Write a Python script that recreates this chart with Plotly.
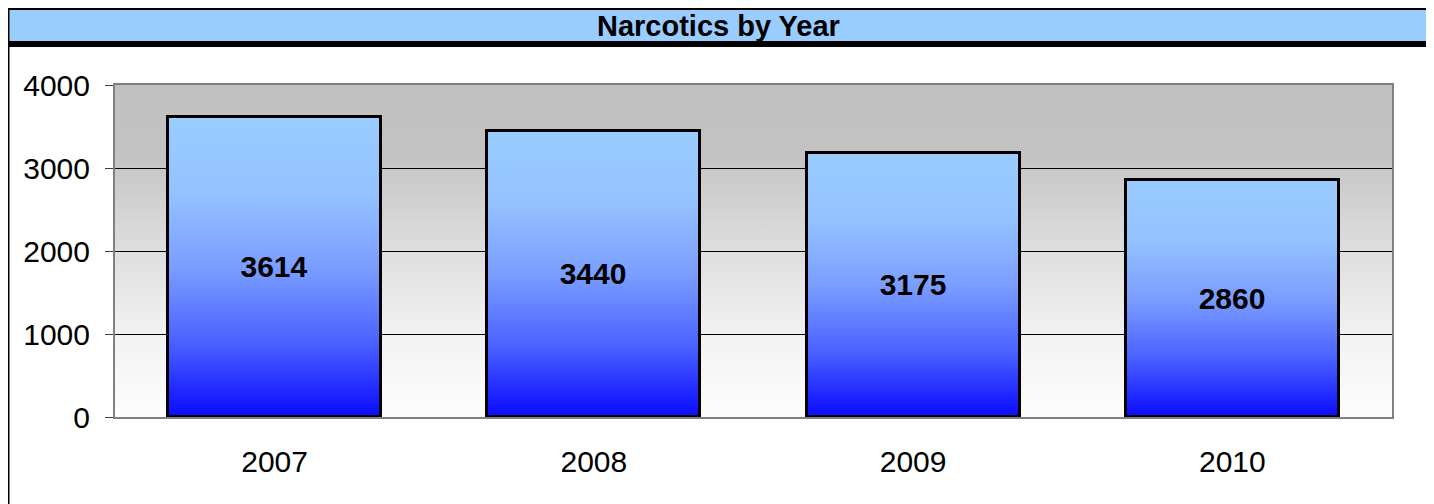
import base64
import plotly.graph_objects as go

# ---- data ----
years = ["2007", "2008", "2009", "2010"]
counts = [3614, 3440, 3175, 2860]
y_ticks = [0, 1000, 2000, 3000, 4000]
title_text = "Narcotics by Year"

# ---- style ----
FONT = "Liberation Sans, Arial, sans-serif"
BAR_WIDTH = 0.667
OFF = 8                      # page body margin
W, H = 1434 - OFF, 504 - OFF  # figure size
PL, PR, PT, PB = 115, 1392, 85, 417  # plot area in page pixels


def px(x):
    return (x - PL) / (PR - PL)


def py(y):
    return (PB - y) / (PB - PT)


bar_scale = [[0, "#0a0aff"], [0.25, "#4a62ff"], [0.5, "#7a9eff"],
             [0.75, "#95c2ff"], [1, "#99ccff"]]

fig = go.Figure()

# gradient-filled bar bodies
idx = list(range(len(years)))
for i, v in zip(idx, counts):
    hw = BAR_WIDTH / 2
    fig.add_trace(go.Scatter(
        x=[i - hw, i + hw, i + hw, i - hw, i - hw],
        y=[0, 0, v, v, 0],
        fill="toself", mode="lines", line=dict(width=0),
        fillgradient=dict(type="vertical", colorscale=bar_scale),
        hoverinfo="skip", showlegend=False,
    ))

# bar outlines + labels (overlay axes so they sit above the gradients)
fig.add_trace(go.Bar(
    x=idx, y=counts, width=BAR_WIDTH,
    marker=dict(color="rgba(0,0,0,0)", line=dict(color="black", width=3)),
    text=[str(v) for v in counts], textposition="inside",
    insidetextanchor="middle",
    textfont=dict(family=FONT, size=30, color="black", weight="bold"),
    xaxis="x2", yaxis="y2", showlegend=False, hoverinfo="skip",
))

# plot-area background gradient (SVG image)
svg = (
    '<svg xmlns="http://www.w3.org/2000/svg" width="100" height="100" '
    'viewBox="0 0 100 100" preserveAspectRatio="none">'
    '<defs><linearGradient id="g" x1="0" y1="0" x2="0" y2="1">'
    '<stop offset="0" stop-color="#c0c0c0"/>'
    '<stop offset="0.22" stop-color="#c3c3c3"/>'
    '<stop offset="0.26" stop-color="#c9c9c9"/>'
    '<stop offset="0.5" stop-color="#dedede"/>'
    '<stop offset="0.75" stop-color="#f2f2f2"/>'
    '<stop offset="1" stop-color="#fdfdfd"/>'
    '</linearGradient></defs>'
    '<rect x="0" y="0" width="100" height="100" fill="url(#g)"/></svg>'
)
src = "data:image/svg+xml;base64," + base64.b64encode(svg.encode()).decode()

shapes = [
    # title box fill
    dict(type="rect", xref="paper", yref="paper",
         x0=px(OFF), x1=px(1426), y0=py(OFF), y1=py(41),
         fillcolor="#99ccff", line=dict(width=0), layer="above"),
    # title box top edge (mostly cut by the page edge)
    dict(type="line", xref="paper", yref="paper",
         x0=px(OFF), x1=px(1434), y0=py(OFF), y1=py(OFF),
         line=dict(color="black", width=4)),
    # title box bottom edge
    dict(type="line", xref="paper", yref="paper",
         x0=px(OFF), x1=px(1434), y0=py(44), y1=py(44),
         line=dict(color="black", width=6)),
    # outer chart border sides
    dict(type="line", xref="paper", yref="paper",
         x0=px(OFF), x1=px(OFF), y0=py(OFF), y1=py(510),
         line=dict(color="black", width=3)),
    dict(type="line", xref="paper", yref="paper",
         x0=px(1430), x1=px(1430), y0=py(OFF), y1=py(510),
         line=dict(color="black", width=8)),
]

fig.update_layout(
    width=W, height=H,
    margin=dict(l=PL - OFF, r=(OFF + W) - PR, t=PT - OFF, b=(OFF + H) - PB,
                pad=0),
    paper_bgcolor="white", plot_bgcolor="rgba(0,0,0,0)",
    font=dict(family=FONT, size=30, color="black"),
    showlegend=False,
    images=[dict(source=src, xref="paper", yref="paper", x=0, y=1,
                 sizex=1, sizey=1, sizing="stretch", xanchor="left",
                 yanchor="top", layer="below")],
    shapes=shapes,
    annotations=[dict(text=title_text, xref="paper", yref="paper",
                      x=px(718), y=py(OFF + 0.5), xanchor="center",
                      yanchor="top", borderpad=0, showarrow=False,
                      font=dict(family=FONT, size=29, color="black",
                                weight="bold"))],
    xaxis=dict(range=[-0.5, 3.5], tickvals=idx, ticktext=years,
               showgrid=False, zeroline=False, ticks="",
               showline=True, linecolor="#808080", linewidth=2, mirror=True,
               ticklabelstandoff=17, tickfont=dict(size=30)),
    yaxis=dict(range=[0, 4000], tickvals=y_ticks, showgrid=True,
               gridcolor="black", gridwidth=1, zeroline=False,
               ticks="outside", ticklen=8, tickcolor="#404040", tickwidth=1,
               showline=True, linecolor="#808080", linewidth=2, mirror=True,
               ticklabelstandoff=9, tickfont=dict(size=30), automargin=False),
    xaxis2=dict(overlaying="x", range=[-0.5, 3.5], visible=False),
    yaxis2=dict(overlaying="y", range=[0, 4000], visible=False),
    bargap=0,
)

fig.write_html("out.html")
